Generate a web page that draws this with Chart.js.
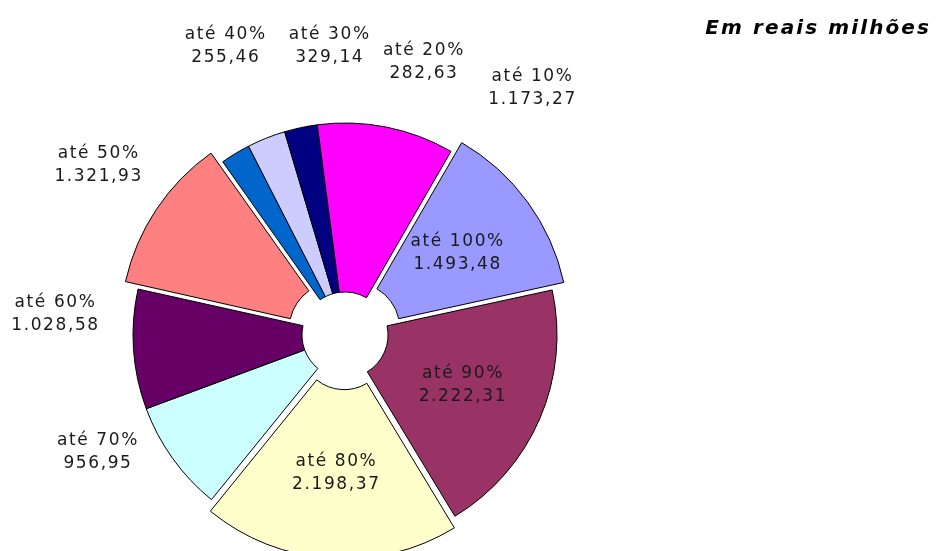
<!DOCTYPE html>
<html><head><meta charset="utf-8">
<script src="https://cdn.jsdelivr.net/npm/chart.js@4"></script>
<style>
html,body{margin:0;padding:0;background:#fff;}
#wrap{position:relative;width:936px;height:551px;overflow:hidden;}
#title{position:absolute;right:5px;top:15px;font:italic bold 20px "DejaVu Sans";letter-spacing:2.1px;color:#000;white-space:nowrap;}
canvas{display:block;}
</style></head><body>
<div id="wrap"><canvas id="c" width="936" height="551"></canvas><div id="title">Em reais milhões</div></div>
<script>
// Data (natural order of categories)
const categories = ['até 10%','até 20%','até 30%','até 40%','até 50%','até 60%','até 70%','até 80%','até 90%','até 100%'];
const values = [1173.27, 282.63, 329.14, 255.46, 1321.93, 1028.58, 956.95, 2198.37, 2222.31, 1493.48];

// Styles / layout (kept separate from data)
const colors = ['#FF00FF','#000080','#CCCCFF','#0066CC','#FF8080','#660066','#CCFFFF','#FFFFCC','#993366','#9999FF'];
const exploded = ['até 50%','até 80%','até 100%'];
const insideLabels = ['até 80%','até 90%','até 100%'];
const labelTurnDeg = [25.8, 28, 18.6, 8.6, 0.9, 8, 10.4, 0, 0, 0];
const labelDist = [310, 284, 289, 313, 300, 291, 274, 0, 0, 0];
const EXPLODE = 44; // Chart.js translates by offset/4

// slices are drawn counter-clockwise in the original: reverse order for Chart.js
const order = categories.map((_, i) => categories.length - 1 - i);

function fmt(v){
  const p = v.toFixed(2).split('.');
  return p[0].replace(/\B(?=(\d{3})+(?!\d))/g, '.') + ',' + p[1];
}

const labelPlugin = {
  id: 'sliceLabels',
  afterDatasetsDraw(chart){
    const ctx = chart.ctx;
    const meta = chart.getDatasetMeta(0);
    ctx.save();
    ctx.font = '17px "DejaVu Sans"';
    try { ctx.letterSpacing = '1.6px'; } catch(e) {}
    ctx.fillStyle = '#1a1a1a';
    ctx.textAlign = 'center';
    ctx.textBaseline = 'middle';
    meta.data.forEach((arc, i) => {
      const k = order[i];
      const p = arc.getProps(['x','y','startAngle','endAngle','innerRadius','outerRadius']);
      const mid = (p.startAngle + p.endAngle) / 2;
      let px, py;
      if (insideLabels.includes(categories[k])) {
        const off = exploded.includes(categories[k]) ? EXPLODE / 4 : 0;
        const r = (p.innerRadius + p.outerRadius) / 2 + off;
        px = p.x + Math.cos(mid) * r;
        py = p.y + Math.sin(mid) * r;
      } else {
        const a = mid + labelTurnDeg[k] * Math.PI / 180;
        px = p.x + Math.cos(a) * labelDist[k];
        py = p.y + Math.sin(a) * labelDist[k];
      }
      ctx.fillText(categories[k], px + 0.8, py - 11.5);
      ctx.fillText(fmt(values[k]), px + 0.8, py + 11.5);
    });
    ctx.restore();
  }
};

new Chart(document.getElementById('c'), {
  type: 'doughnut',
  data: {
    labels: order.map(k => categories[k]),
    datasets: [{
      data: order.map(k => values[k]),
      backgroundColor: order.map(k => colors[k]),
      borderColor: '#000',
      borderWidth: 1,
      offset: order.map(k => exploded.includes(categories[k]) ? EXPLODE : 0),
      hoverOffset: 0
    }]
  },
  options: {
    responsive: false,
    animation: false,
    events: [],
    rotation: 30,
    cutout: '20.3%',
    radius: 212,
    layout: { padding: { left: 0, right: 246, top: 119, bottom: 0 } },
    plugins: { legend: { display: false }, tooltip: { enabled: false }, title: { display: false } }
  },
  plugins: [labelPlugin]
});
</script>
</body></html>
